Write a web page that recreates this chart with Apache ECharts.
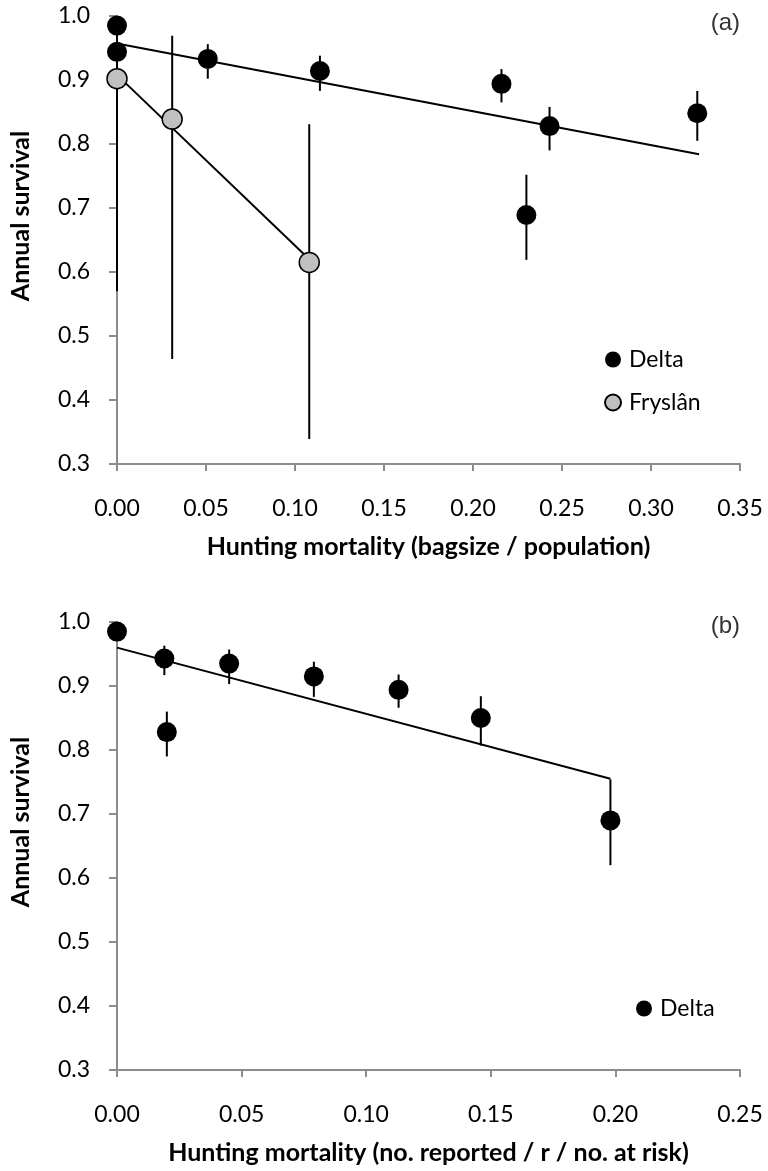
<!DOCTYPE html>
<html>
<head>
<meta charset="utf-8">
<script src="https://cdn.jsdelivr.net/npm/echarts@6/dist/echarts.min.js"></script>
<style>
  html, body { margin: 0; padding: 0; background: #fff; }
  #chart { width: 768px; height: 1171px; }
</style>
</head>
<body>
<div id="chart"></div>
<script>
// panel (a): bagsize / population
const deltaAX  = [0, 0, 0.051, 0.114, 0.216, 0.230, 0.243, 0.326];
const deltaAY  = [0.985, 0.944, 0.933, 0.914, 0.894, 0.689, 0.828, 0.848];
const deltaALo = [0.975, 0.935, 0.902, 0.883, 0.865, 0.619, 0.790, 0.805];
const deltaAHi = [0.993, 0.953, 0.956, 0.938, 0.917, 0.752, 0.858, 0.883];

const frysX  = [0, 0.031, 0.108];
const frysY  = [0.902, 0.839, 0.615];
const frysLo = [0.570, 0.464, 0.339];
const frysHi = [1.000, 0.969, 0.831];

const trendDeltaAX = [0, 0.327];
const trendDeltaAY = [0.957, 0.784];
const trendFrysX = [0, 0.108];
const trendFrysY = [0.908, 0.620];

// panel (b): no. reported / r / no. at risk
const deltaBX  = [0, 0.019, 0.020, 0.045, 0.079, 0.113, 0.146, 0.198];
const deltaBY  = [0.985, 0.943, 0.828, 0.935, 0.915, 0.894, 0.850, 0.690];
const deltaBLo = [0.975, 0.917, 0.790, 0.903, 0.883, 0.866, 0.807, 0.620];
const deltaBHi = [0.993, 0.963, 0.860, 0.957, 0.938, 0.918, 0.884, 0.754];

const trendDeltaBX = [0, 0.198];
const trendDeltaBY = [0.960, 0.755];

const zip = (a, b) => a.map((v, i) => [v, b[i]]);
const zip3 = (a, b, c) => a.map((v, i) => [v, b[i], c[i]]);

const FONT = 'Lato';
const axisGrey = '#8c8c8c';

function errBars(name, idx, data) {
  return {
    name: name,
    type: 'custom',
    xAxisIndex: idx, yAxisIndex: idx,
    z: 2,
    silent: true,
    encode: { x: 0, y: [1, 2] },
    data: data,
    renderItem: function (params, api) {
      const p1 = api.coord([api.value(0), api.value(1)]);
      const p2 = api.coord([api.value(0), api.value(2)]);
      return {
        type: 'line',
        shape: { x1: p1[0], y1: p1[1], x2: p2[0], y2: p2[1] },
        style: { stroke: '#000', lineWidth: 2 }
      };
    }
  };
}

function trend(name, idx, data) {
  return {
    name: name, type: 'line', xAxisIndex: idx, yAxisIndex: idx,
    data: data, showSymbol: false, symbol: 'none', z: 3, silent: true,
    lineStyle: { color: '#000', width: 2 }
  };
}

function xAx(idx, max, title) {
  return {
    gridIndex: idx, type: 'value', min: 0, max: max, interval: 0.05,
    axisLine: { show: true, lineStyle: { color: axisGrey, width: 2 } },
    axisTick: { show: true, length: 7, lineStyle: { color: axisGrey, width: 2 } },
    axisLabel: { color: '#000', fontFamily: FONT, fontSize: 23, margin: 33,
      formatter: v => v.toFixed(2) },
    splitLine: { show: false },
    name: title, nameLocation: 'middle', nameGap: 70,
    nameTextStyle: { color: '#000', fontFamily: FONT, fontWeight: 'bold', fontSize: 25 }
  };
}

function yAx(idx) {
  return {
    gridIndex: idx, type: 'value', min: 0.3, max: 1.0, interval: 0.1,
    axisLine: { show: true, lineStyle: { color: axisGrey, width: 2 } },
    axisTick: { show: true, length: 8, lineStyle: { color: axisGrey, width: 2 } },
    axisLabel: { color: '#000', fontFamily: FONT, fontSize: 23, margin: 27,
      formatter: v => v.toFixed(1) },
    splitLine: { show: false },
    name: 'Annual survival', nameLocation: 'middle', nameRotate: 90, nameGap: 84,
    nameTextStyle: { color: '#000', fontFamily: FONT, fontWeight: 'bold', fontSize: 25,
      padding: [0, 0, 0, 48] }
  };
}

const legendText = { fontFamily: FONT, fontSize: 23, color: '#000', padding: [0, 0, 0, 3] };

const chart = echarts.init(document.getElementById('chart'));
chart.setOption({
  animation: false,
  backgroundColor: '#fff',
  grid: [
    { left: 114, right: 28, top: 16, height: 448 },
    { left: 114, right: 28, top: 622, height: 448 }
  ],
  xAxis: [
    xAx(0, 0.35, 'Hunting mortality (bagsize / population)'),
    xAx(1, 0.25, 'Hunting mortality (no. reported / r / no. at risk)')
  ],
  yAxis: [yAx(0), yAx(1)],
  legend: [
    { data: ['Delta', 'Fryslân'], orient: 'vertical', left: 599, top: 343,
      icon: 'circle', itemWidth: 16, itemHeight: 16, itemGap: 20,
      textStyle: legendText },
    { data: ['Delta'], orient: 'vertical', left: 631, top: 992,
      icon: 'circle', itemWidth: 16, itemHeight: 16,
      textStyle: legendText }
  ],
  graphic: [
    { type: 'text', right: 28, top: 11,
      style: { text: '(a)', font: '24px "Liberation Sans"', fill: '#333' } },
    { type: 'text', right: 28, top: 614,
      style: { text: '(b)', font: '24px "Liberation Sans"', fill: '#333' } }
  ],
  series: [
    errBars('errA', 0, zip3(deltaAX, deltaALo, deltaAHi)),
    errBars('errF', 0, zip3(frysX, frysLo, frysHi)),
    trend('trendA', 0, zip(trendDeltaAX, trendDeltaAY)),
    trend('trendF', 0, zip(trendFrysX, trendFrysY)),
    { name: 'Delta', type: 'scatter', xAxisIndex: 0, yAxisIndex: 0, z: 4,
      symbolSize: 20, data: zip(deltaAX, deltaAY),
      itemStyle: { color: '#000', opacity: 1 } },
    { name: 'Fryslân', type: 'scatter', xAxisIndex: 0, yAxisIndex: 0, z: 4,
      symbolSize: 20, data: zip(frysX, frysY),
      itemStyle: { color: '#c0c0c0', borderColor: '#000', borderWidth: 1.5, opacity: 1 } },

    errBars('errB', 1, zip3(deltaBX, deltaBLo, deltaBHi)),
    trend('trendB', 1, zip(trendDeltaBX, trendDeltaBY)),
    { name: 'Delta', type: 'scatter', xAxisIndex: 1, yAxisIndex: 1, z: 4,
      symbolSize: 20, data: zip(deltaBX, deltaBY),
      itemStyle: { color: '#000', opacity: 1 } }
  ]
});
</script>
</body>
</html>
